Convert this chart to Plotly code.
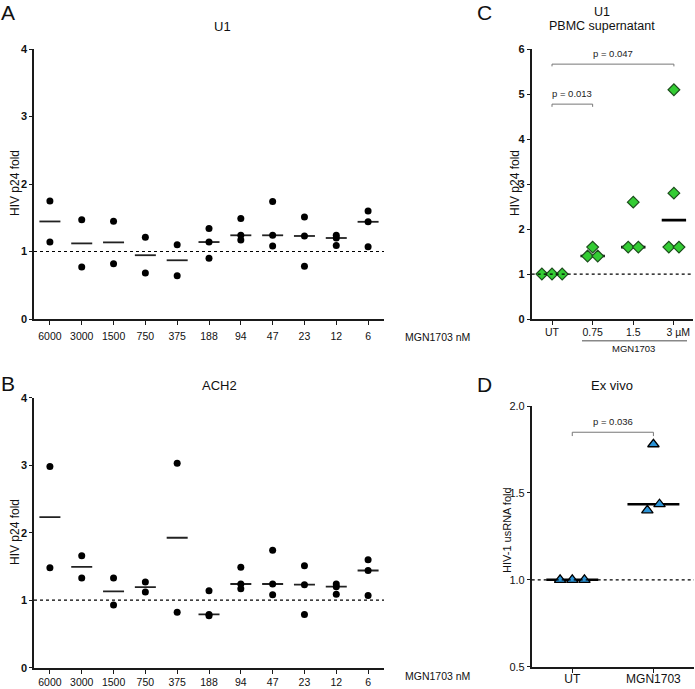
import numpy as np
import plotly.graph_objects as go

# Data
conc_labels = ["6000", "3000", "1500", "750", "375", "188", "94", "47", "23", "12", "6"]
u1_points = [[1.75, 1.14], [1.47, 0.77], [1.45, 0.82], [1.21, 0.68], [1.10, 0.64],
             [1.34, 1.14, 0.90], [1.49, 1.24, 1.17], [1.74, 1.24, 1.08],
             [1.51, 1.23, 0.78], [1.24, 1.20, 1.09], [1.60, 1.44, 1.07]]
ach2_points = [[2.98, 1.48], [1.66, 1.33], [1.33, 0.93], [1.27, 1.12], [3.03, 0.82],
               [1.14, 0.79, 0.77], [1.49, 1.24, 1.17], [1.74, 1.24, 1.08],
               [1.51, 1.23, 0.79], [1.24, 1.20, 1.09], [1.60, 1.44, 1.07]]

pbmc_labels = ["UT", "0.75", "1.5", "\u00a0\u00a0\u00a03 \u00b5M"]
pbmc_points = [[1.0, 1.0, 1.0], [1.6, 1.4, 1.4], [2.6, 1.6, 1.6], [5.1, 2.8, 1.6, 1.6]]

exvivo_labels = ["UT", "MGN1703"]
exvivo_points = [[1.0, 1.0, 1.0], [1.78, 1.435, 1.40]]

W, H = 695, 689
FONT = "Arial, Liberation Sans, sans-serif"
AXC = "#1a1a1a"


def px(x, y):
    return x / W, 1 - y / H


def spread(vals, step, tol):
    # points with (nearly) equal values are spread sideways like in Prism
    order = sorted(range(len(vals)), key=lambda i: vals[i])
    clusters = []
    for i in order:
        if clusters and vals[i] - vals[clusters[-1][-1]] < tol:
            clusters[-1].append(i)
        else:
            clusters.append([i])
    offs = [0.0] * len(vals)
    for c in clusters:
        for j, i in enumerate(c):
            offs[i] = (j - (len(c) - 1) / 2) * step
    return offs


fig = go.Figure()


def add_panel(points, ax, marker, step, tol, half, lw, lcolor):
    xs, ys = [], []
    lx, ly = [], []
    for g, vals in enumerate(points):
        offs = spread(vals, step, tol)
        xs += [g + o for o in offs]
        ys += vals
        med = float(np.median(vals))
        lx += [g - half, g + half, None]
        ly += [med, med, None]
    fig.add_trace(go.Scatter(x=lx, y=ly, mode="lines", xaxis="x" + ax, yaxis="y" + ax,
                             line=dict(color=lcolor, width=lw), hoverinfo="skip"))
    fig.add_trace(go.Scatter(x=xs, y=ys, mode="markers", xaxis="x" + ax, yaxis="y" + ax,
                             marker=marker))


dot = dict(symbol="circle", size=7, color="black")
add_panel(u1_points, "", dot, 0, 0.01, 0.33, 1.8, "#222")
add_panel(ach2_points, "2", dot, 0, 0.01, 0.33, 1.8, "#222")
add_panel(pbmc_points, "3",
          dict(symbol="diamond", size=9, color="#33cc33", line=dict(color="#1d4d1d", width=1.2)),
          0.25, 0.1, 0.3, 2.6, "black")
add_panel(exvivo_points, "4",
          dict(symbol="triangle-up", size=10, color="#2b93d6", line=dict(color="black", width=1.3)),
          0.15, 0.06, 0.32, 2.6, "black")


def axis(**kw):
    d = dict(showline=True, linecolor=AXC, linewidth=1.6, ticks="outside", ticklen=4,
             tickwidth=1.4, tickcolor=AXC, showgrid=False, zeroline=False, automargin=False,
             tickfont=dict(family=FONT, size=10.5, color="#111"))
    d.update(kw)
    return d


bold_y = dict(family=FONT, size=11, color="#111", weight="bold")

xa_dom = [34 / W, 384 / W]
fig.update_layout(
    width=W, height=H, margin=dict(l=0, r=0, t=0, b=0),
    plot_bgcolor="white", paper_bgcolor="white", showlegend=False,
    xaxis=axis(domain=xa_dom, range=[-0.5, 10.5], tickvals=list(range(11)),
               ticktext=conc_labels, anchor="y", ticklabelstandoff=3),
    yaxis=axis(domain=[1 - 319 / H, 1 - 49 / H], range=[0, 4], tickvals=[0, 1, 2, 3, 4],
               anchor="x", ticklen=3, tickfont=bold_y),
    xaxis2=axis(domain=xa_dom, range=[-0.5, 10.5], tickvals=list(range(11)),
                ticktext=conc_labels, anchor="y2"),
    yaxis2=axis(domain=[1 - 667.7 / H, 1 - 397.7 / H], range=[0, 4], tickvals=[0, 1, 2, 3, 4],
                anchor="x2", ticklen=3, tickfont=bold_y),
    xaxis3=axis(domain=[531.7 / W, 693 / W], range=[-0.5, 3.47], tickvals=list(range(4)),
                ticktext=pbmc_labels, anchor="y3", ticklabelstandoff=-1),
    yaxis3=axis(domain=[1 - 319 / H, 1 - 49.3 / H], range=[0, 6], tickvals=list(range(7)),
                anchor="x3", ticklen=3, tickfont=bold_y),
    xaxis4=axis(domain=[531.7 / W, 694 / W], range=[-0.5, 1.5], tickvals=[0, 1],
                ticktext=exvivo_labels, anchor="y4", ticklabelstandoff=-4,
                tickfont=dict(family=FONT, size=12, color="#111")),
    yaxis4=axis(domain=[1 - 666.7 / H, 1 - 406 / H], range=[0.5, 2.0],
                tickvals=[0.5, 1.0, 1.5, 2.0], tickformat=".1f", anchor="x4", ticklen=3,
                tickfont=dict(family=FONT, size=11, color="#111")),
)

# dotted baseline at fold = 1
for ax in ["", "2", "3", "4"]:
    fig.add_shape(type="line", xref="x" + ax + " domain", yref="y" + ax, x0=0, x1=1, y0=1, y1=1,
                  line=dict(color="black", width=1.2, dash="dot"))

# significance brackets
brackets = [("3", 0, 1, 4.78, 0.06, "p = 0.013"), ("3", 0, 3, 5.67, 0.05, "p = 0.047"),
            ("4", 0, 1, 1.849, 0.022, "p = 0.036")]
for ax, a, b, yb, drop, txt in brackets:
    fig.add_shape(type="path", xref="x" + ax, yref="y" + ax,
                  path=f"M {a},{yb - drop} L {a},{yb} L {b},{yb} L {b},{yb - drop}",
                  line=dict(color="#777", width=1))
    fig.add_annotation(x=(a + b) / 2, y=yb, xref="x" + ax, yref="y" + ax, text=txt,
                       showarrow=False, yanchor="bottom", yshift=3,
                       font=dict(family=FONT, size=9.5, color="#222"))

# texts placed in pixel positions
texts = [
    ("A", 8, 12, 21, 0), ("B", 8, 383, 21, 0), ("C", 484, 12, 21, 0), ("D", 484, 384, 21, 0),
    ("U1", 222, 27, 13, 0), ("ACH2", 220, 385, 13, 0),
    ("U1", 602, 12, 12.5, 0), ("PBMC supernatant", 602, 26, 12.5, 0), ("Ex vivo", 612, 385, 13, 0),
    ("HIV p24 fold", 15, 183, 12, -90), ("HIV p24 fold", 15, 532, 12, -90),
    ("HIV p24 fold", 515, 183, 12, -90), ("HIV-1 usRNA fold", 507, 530, 11, -90),
    ("MGN1703 nM", 437, 337, 10.5, 0), ("MGN1703 nM", 437, 676, 10.5, 0),
    ("MGN1703", 633, 348, 9.5, 0),
]
for t, x, y, s, ang in texts:
    xp, yp = px(x, y)
    fig.add_annotation(x=xp, y=yp, xref="paper", yref="paper", text=t, showarrow=False,
                       textangle=ang, xanchor="center", yanchor="middle",
                       font=dict(family=FONT, size=s, color="#111"))

# underline for the MGN1703 doses
x0, y0 = px(582, 340.7)
x1, _ = px(687, 340.7)
fig.add_shape(type="line", xref="paper", yref="paper", x0=x0, x1=x1, y0=y0, y1=y0,
              line=dict(color="#888", width=1.5))

# the page's default body margin would push the figure off the window
fig.write_html("out.html", config={"displayModeBar": False},
               post_script="document.body.style.margin='0';")
